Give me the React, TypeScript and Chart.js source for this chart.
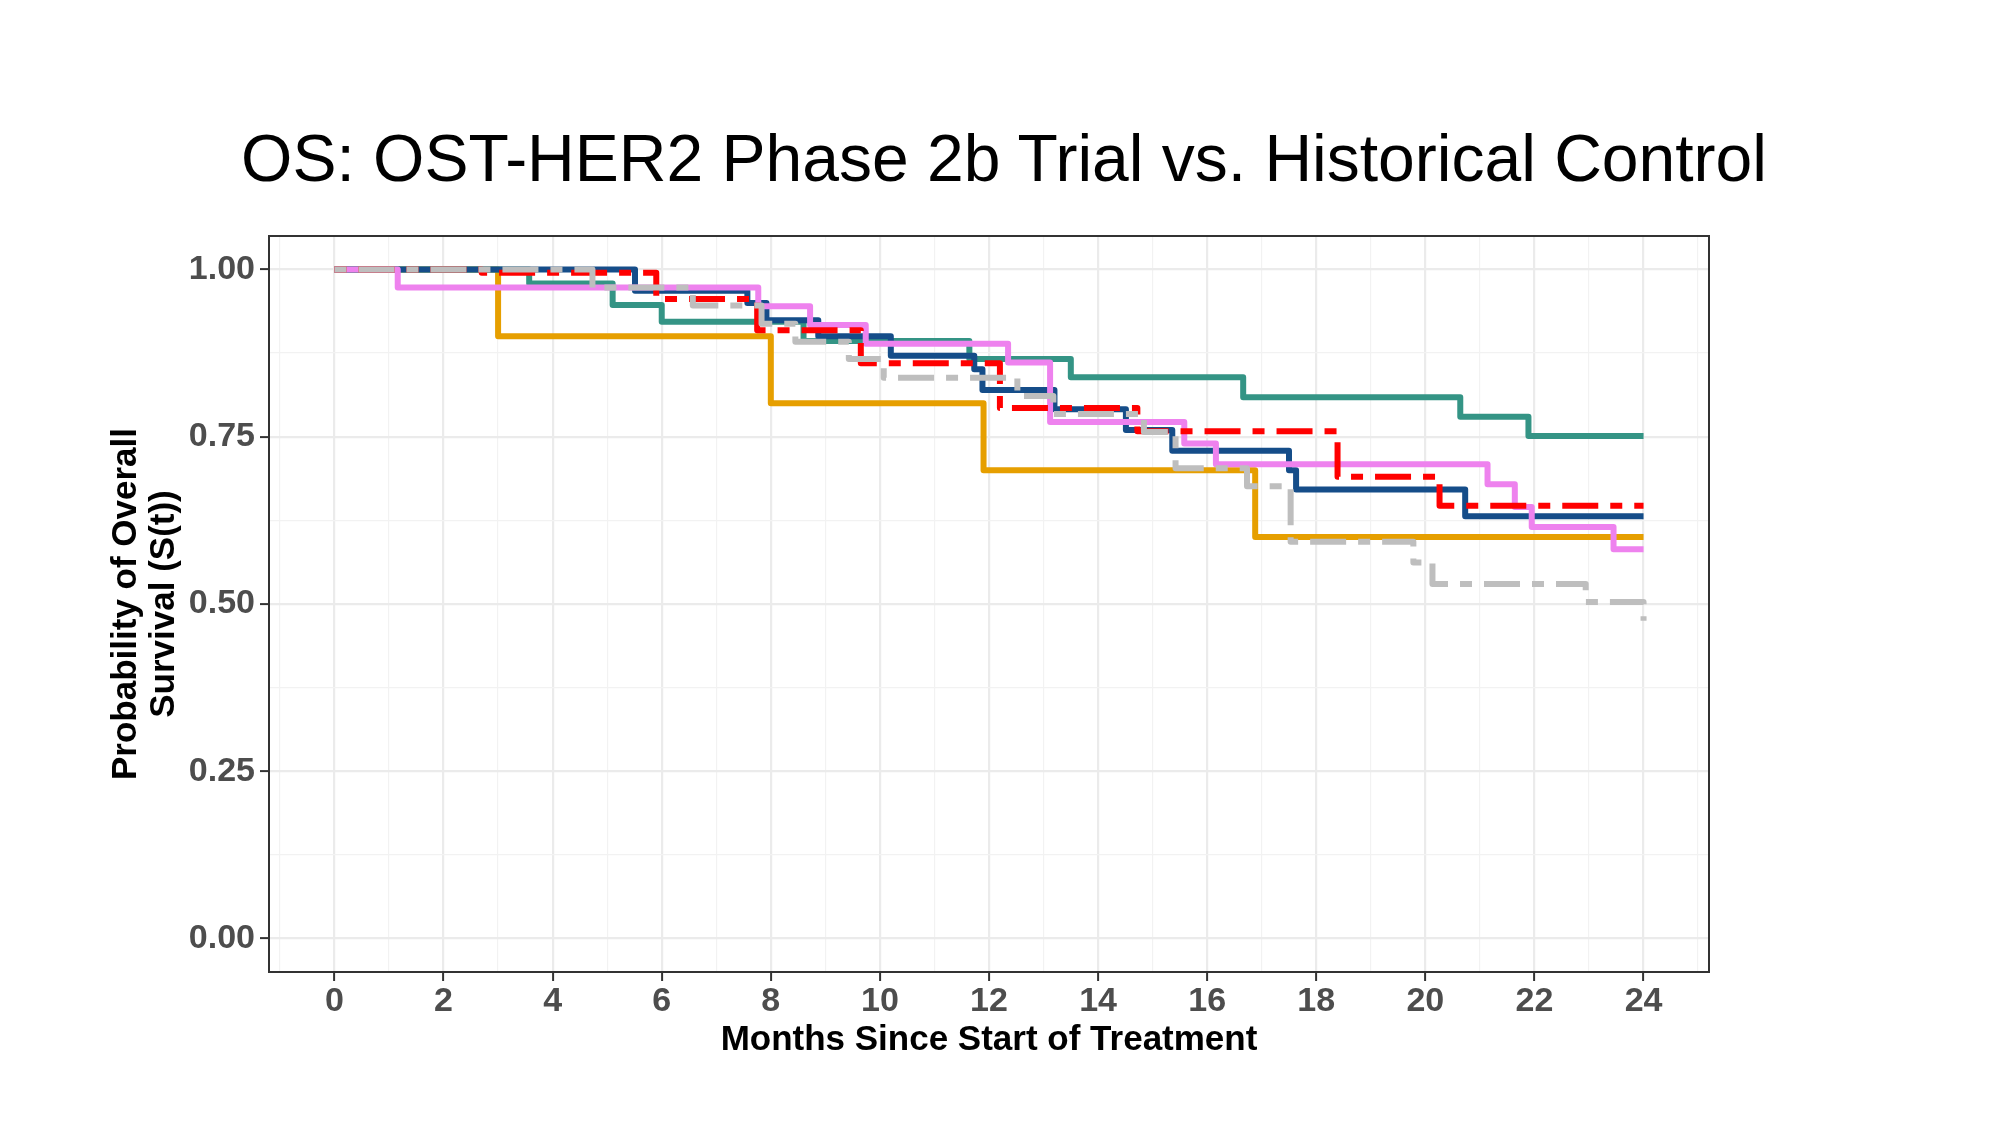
import { useEffect, useRef } from 'react';
import { Chart, registerables } from 'chart.js';

Chart.register(...registerables);

// Kaplan-Meier curves (months, survival probability)
const grayTimes = [0, 4.73, 6.57, 7.83, 8.45, 9.43, 10.07, 12.52, 13.18, 14.84, 15.42, 16.73, 17.53, 19.78, 20.13, 22.94, 24, 24];
const graySurv = [1, 0.973, 0.946, 0.919, 0.892, 0.866, 0.838, 0.811, 0.784, 0.757, 0.703, 0.676, 0.593, 0.562, 0.53, 0.503, 0.503, 0.475];

const redTimes = [0, 2.7, 5.9, 7.75, 9.65, 12.2, 14.72, 18.39, 20.26, 24];
const redSurv = [1, 0.995, 0.956, 0.909, 0.86, 0.793, 0.758, 0.69, 0.647, 0.647];

const pinkTimes = [0, 1.16, 7.77, 8.72, 9.74, 12.35, 13.12, 15.58, 16.16, 21.14, 21.64, 21.95, 23.45, 24];
const pinkSurv = [1, 0.973, 0.945, 0.917, 0.889, 0.861, 0.772, 0.74, 0.709, 0.679, 0.645, 0.615, 0.582, 0.582];

const navyTimes = [0, 5.51, 7.57, 7.92, 8.87, 10.2, 11.73, 11.88, 13.2, 14.51, 15.36, 17.5, 17.63, 20.73, 24];
const navySurv = [1, 0.968, 0.95, 0.924, 0.9, 0.871, 0.851, 0.82, 0.791, 0.76, 0.729, 0.7, 0.671, 0.631, 0.631];

const tealTimes = [0, 3.57, 5.1, 6.0, 8.6, 11.64, 13.5, 16.66, 20.64, 21.89, 24];
const tealSurv = [1, 0.979, 0.947, 0.922, 0.893, 0.866, 0.839, 0.809, 0.78, 0.751, 0.751];

const orangeTimes = [0, 3.0, 8.0, 11.9, 16.88, 24];
const orangeSurv = [1, 0.9, 0.8, 0.7, 0.6, 0.6];

const xTicks = [-1, 0, 1, 2, 3, 4, 5, 6, 7, 8, 9, 10, 11, 12, 13, 14, 15, 16, 17, 18, 19, 20, 21, 22, 23, 24, 25];
const yTicks = [0, 0.125, 0.25, 0.375, 0.5, 0.625, 0.75, 0.875, 1];

const zip = (xs: number[], ys: number[]) => xs.map((x, i) => ({ x, y: ys[i] }));

const isMajorX = (v: number) => v >= 0 && v <= 24 && v % 2 === 0;
const isMajorY = (v: number) => Math.abs(v * 4 - Math.round(v * 4)) < 1e-9;

const panelBorder = {
	id: 'panelBorder',
	afterDraw(chart: any) {
		const { ctx, chartArea } = chart;
		ctx.save();
		ctx.strokeStyle = '#333333';
		ctx.lineWidth = 2;
		ctx.strokeRect(chartArea.left, chartArea.top, chartArea.right - chartArea.left, chartArea.bottom - chartArea.top);
		ctx.restore();
	},
};

export default function App() {
	const canvas = useRef<HTMLCanvasElement | null>(null);

	useEffect(() => {
		if (!canvas.current) return;
		const line = (data: { x: number; y: number }[], color: string, dash: number[] = []) => ({
			data,
			borderColor: color,
			borderWidth: 6,
			borderDash: dash,
			borderJoinStyle: 'round' as const,
			stepped: 'before' as const,
			pointRadius: 0,
			fill: false,
		});
		const tickFont = { family: 'Liberation Sans', size: 34, weight: 'bold' as const };
		const titleFont = { family: 'Liberation Sans', size: 35, weight: 'bold' as const };

		const chart = new Chart(canvas.current, {
			type: 'line',
			data: {
				datasets: [
					line(zip(grayTimes, graySurv), '#BEBEBE', [12, 12, 36, 12]),
					line(zip(redTimes, redSurv), '#FF0000', [12, 12, 36, 12]),
					line(zip(pinkTimes, pinkSurv), '#EE82EE'),
					line(zip(navyTimes, navySurv), '#154D89'),
					line(zip(tealTimes, tealSurv), '#349485'),
					line(zip(orangeTimes, orangeSurv), '#E69F00'),
				],
			},
			options: {
				animation: false,
				responsive: true,
				maintainAspectRatio: false,
				devicePixelRatio: 1,
				layout: { padding: { left: 0, right: 291, top: 236, bottom: 0 } },
				plugins: {
					legend: { display: false },
					tooltip: { enabled: false },
					title: { display: false },
				},
				scales: {
					x: {
						type: 'linear',
						min: -1.2,
						max: 25.2,
						afterBuildTicks: (axis: any) => {
							axis.ticks = xTicks.map((value) => ({ value }));
						},
						afterFit: (axis: any) => {
							axis.height = 153;
						},
						ticks: {
							autoSkip: false,
							maxRotation: 0,
							padding: 0,
							color: '#4D4D4D',
							font: tickFont,
							callback: (v: any) => (isMajorX(Number(v)) ? String(v) : ''),
						},
						grid: {
							color: (c: any) => (c.tick && isMajorX(c.tick.value) ? '#EBEBEB' : '#F2F2F2'),
							lineWidth: (c: any) => (c.tick && isMajorX(c.tick.value) ? 2.2 : 1.2),
							tickColor: (c: any) => (c.tick && isMajorX(c.tick.value) ? '#333333' : 'rgba(0,0,0,0)'),
							tickWidth: 2,
							tickLength: 9,
						},
						border: { display: false },
						title: {
							display: true,
							text: 'Months Since Start of Treatment',
							color: '#000000',
							font: titleFont,
							padding: { top: 0, bottom: 64 },
						},
					},
					y: {
						type: 'linear',
						min: -0.05,
						max: 1.05,
						afterBuildTicks: (axis: any) => {
							axis.ticks = yTicks.map((value) => ({ value }));
						},
						afterFit: (axis: any) => {
							axis.width = 269;
						},
						ticks: {
							autoSkip: false,
							padding: 5,
							color: '#4D4D4D',
							font: tickFont,
							callback: (v: any) => (isMajorY(Number(v)) ? Number(v).toFixed(2) : ''),
						},
						grid: {
							color: (c: any) => (c.tick && isMajorY(c.tick.value) ? '#EBEBEB' : '#F2F2F2'),
							lineWidth: (c: any) => (c.tick && isMajorY(c.tick.value) ? 2.2 : 1.2),
							tickColor: (c: any) => (c.tick && isMajorY(c.tick.value) ? '#333333' : 'rgba(0,0,0,0)'),
							tickWidth: 2,
							tickLength: 9,
						},
						border: { display: false },
						title: {
							display: true,
							text: ['Probability of Overall', 'Survival (S(t))'],
							color: '#000000',
							font: { ...titleFont, lineHeight: 1.1 },
							padding: { top: 107, bottom: 0 },
						},
					},
				},
			},
			plugins: [panelBorder],
		});
		return () => chart.destroy();
	}, []);

	return (
		<div style={{ position: 'absolute', left: 0, top: 0, width: '2000px', height: '1125px', background: '#ffffff' }}>
			<canvas ref={canvas}></canvas>
			<div
				style={{
					position: 'absolute',
					left: '8px',
					top: '125px',
					width: '1992px',
					textAlign: 'center',
					fontFamily: '"Liberation Sans", Arial, sans-serif',
					fontSize: '66px',
					lineHeight: '66px',
					color: '#000000',
					whiteSpace: 'nowrap',
				}}
			>
				OS: OST-HER2 Phase 2b Trial vs. Historical Control
			</div>
		</div>
	);
}
